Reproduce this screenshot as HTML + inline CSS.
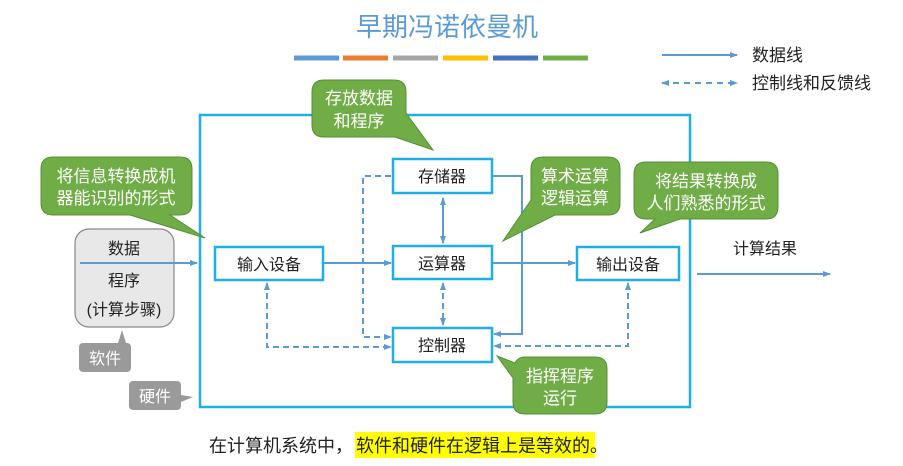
<!DOCTYPE html>
<html><head><meta charset="utf-8"><style>
html,body{margin:0;padding:0;background:#fff;}
svg{display:block;font-family:"Liberation Sans","Noto Sans CJK SC",sans-serif;}
</style></head><body>
<svg width="903" height="466" viewBox="0 0 903 466" xmlns="http://www.w3.org/2000/svg">
<defs>
<marker id="a" markerWidth="8" markerHeight="8" refX="7" refY="4" orient="auto" markerUnits="userSpaceOnUse"><path d="M0,1 L8,4 L0,7 Z" fill="#5b9bd5"/></marker>
<marker id="s" markerWidth="8" markerHeight="8" refX="1" refY="4" orient="auto" markerUnits="userSpaceOnUse"><path d="M8,1 L0,4 L8,7 Z" fill="#5b9bd5"/></marker>
</defs>
<text x="447" y="36" font-size="26" fill="#5b9bd5" text-anchor="middle">早期冯诺依曼机</text>
<g stroke-width="5">
<line x1="294" y1="58" x2="339" y2="58" stroke="#5b9bd5"/>
<line x1="343" y1="58" x2="388" y2="58" stroke="#ed7d31"/>
<line x1="393" y1="58" x2="438" y2="58" stroke="#a5a5a5"/>
<line x1="443" y1="58" x2="488" y2="58" stroke="#ffc000"/>
<line x1="493" y1="58" x2="538" y2="58" stroke="#4472c4"/>
<line x1="543" y1="58" x2="588" y2="58" stroke="#70ad47"/>
</g>
<line x1="662" y1="55" x2="737" y2="55" stroke="#5b9bd5" stroke-width="2" marker-end="url(#a)"/>
<text x="752" y="61" font-size="17" fill="#222">数据线</text>
<line x1="662" y1="83" x2="737" y2="83" stroke="#5b9bd5" stroke-width="2" stroke-dasharray="6,5" marker-end="url(#a)" marker-start="url(#s)"/>
<text x="752" y="89" font-size="17" fill="#222">控制线和反馈线</text>
<rect x="200" y="115" width="490" height="292" fill="none" stroke="#1eaee8" stroke-width="2.5"/>
<rect x="75" y="229" width="99" height="98" rx="14" fill="#e8e8e8" stroke="#888" stroke-width="1.2"/>
<text x="124" y="254" font-size="16" fill="#222" text-anchor="middle">数据</text>
<text x="124" y="286" font-size="16" fill="#222" text-anchor="middle">程序</text>
<text x="124" y="315" font-size="16" fill="#222" text-anchor="middle">(计算步骤)</text>
<line x1="80" y1="263" x2="197" y2="263" stroke="#5b9bd5" stroke-width="2" marker-end="url(#a)"/>
<path d="M110,343 L118,343 L122,330 L126,343 Z" fill="#9a9a9a"/>
<rect x="79" y="343" width="52" height="29" rx="4" fill="#9a9a9a"/>
<text x="105" y="364" font-size="16" fill="#fff" text-anchor="middle">软件</text>
<rect x="129" y="381" width="52" height="29" rx="4" fill="#9a9a9a"/>
<path d="M181,395 L193,397 L181,402 Z" fill="#9a9a9a"/>
<text x="155" y="402" font-size="16" fill="#fff" text-anchor="middle">硬件</text>
<g stroke="#5b9bd5" stroke-width="2" fill="none">
<line x1="323" y1="263" x2="391" y2="263" marker-end="url(#a)"/>
<line x1="492" y1="263" x2="575" y2="263" marker-end="url(#a)"/>
<line x1="697" y1="274" x2="830" y2="274" marker-end="url(#a)"/>
<line x1="443" y1="198" x2="443" y2="243" marker-end="url(#a)" marker-start="url(#s)"/>
<polyline points="493,176 522,176 522,334 494,334" marker-end="url(#a)"/>
<g stroke-dasharray="6,4">
<line x1="443" y1="283" x2="443" y2="325" marker-end="url(#a)" marker-start="url(#s)"/>
<polyline points="391,176 363,176 363,337 391,337" marker-end="url(#a)"/>
<polyline points="267,283 267,347 391,347" marker-start="url(#s)" marker-end="url(#a)"/>
<polyline points="628,283 628,346 494,346" marker-start="url(#s)" marker-end="url(#a)"/>
</g>
</g>
<g fill="#fff" stroke="#1eaee8" stroke-width="2.5">
<rect x="393" y="159" width="99" height="34"/>
<rect x="393" y="246" width="99" height="33"/>
<rect x="393" y="328" width="99" height="34"/>
<rect x="215" y="247" width="108" height="33"/>
<rect x="577" y="247" width="102" height="33"/>
</g>
<g font-size="16" fill="#222" text-anchor="middle">
<text x="442" y="182">存储器</text>
<text x="442" y="269">运算器</text>
<text x="442" y="351">控制器</text>
<text x="269" y="270">输入设备</text>
<text x="628" y="270">输出设备</text>
<text x="765" y="254">计算结果</text>
</g>
<g fill="#70ad47" stroke="#548e35" stroke-width="1">
<path d="M324,80 L394,80 Q406,80 406,92 L406,113 L433,150 L395,137 L324,137 Q312,137 312,125 L312,92 Q312,80 324,80 Z"/>
<path d="M53,157 L180,157 Q192,157 192,169 L192,203 Q192,215 180,215 L170,215 L205,238 L130,215 L53,215 Q41,215 41,203 L41,169 Q41,157 53,157 Z"/>
<path d="M543,157 L608,157 Q620,157 620,169 L620,203 Q620,215 608,215 L555,215 L503,241 L531,200 L531,169 Q531,157 543,157 Z"/>
<path d="M646,162 L766,162 Q778,162 778,174 L778,207 Q778,219 766,219 L680,219 L640,233 L655,219 L646,219 Q634,219 634,207 L634,174 Q634,162 646,162 Z"/>
<path d="M525,357 L595,357 Q607,357 607,369 L607,402 Q607,414 595,414 L525,414 Q513,414 513,402 L513,378 L497,356 L515,363 Q518,357 525,357 Z"/>
</g>
<g font-size="17" fill="#fff" text-anchor="middle">
<text x="359" y="104">存放数据</text>
<text x="359" y="127">和程序</text>
<text x="116" y="182">将信息转换成机</text>
<text x="116" y="204">器能识别的形式</text>
<text x="575" y="182">算术运算</text>
<text x="575" y="204">逻辑运算</text>
<text x="706" y="187">将结果转换成</text>
<text x="706" y="209">人们熟悉的形式</text>
<text x="560" y="382">指挥程序</text>
<text x="560" y="404">运行</text>
</g>
<rect x="355" y="432" width="240" height="26" fill="#ffff00"/>
<text x="209" y="452" font-size="18" fill="#222">在计算机系统中，<tspan x="356">软件和硬件在逻辑上是等效的</tspan>。</text>
</svg>
</body></html>
